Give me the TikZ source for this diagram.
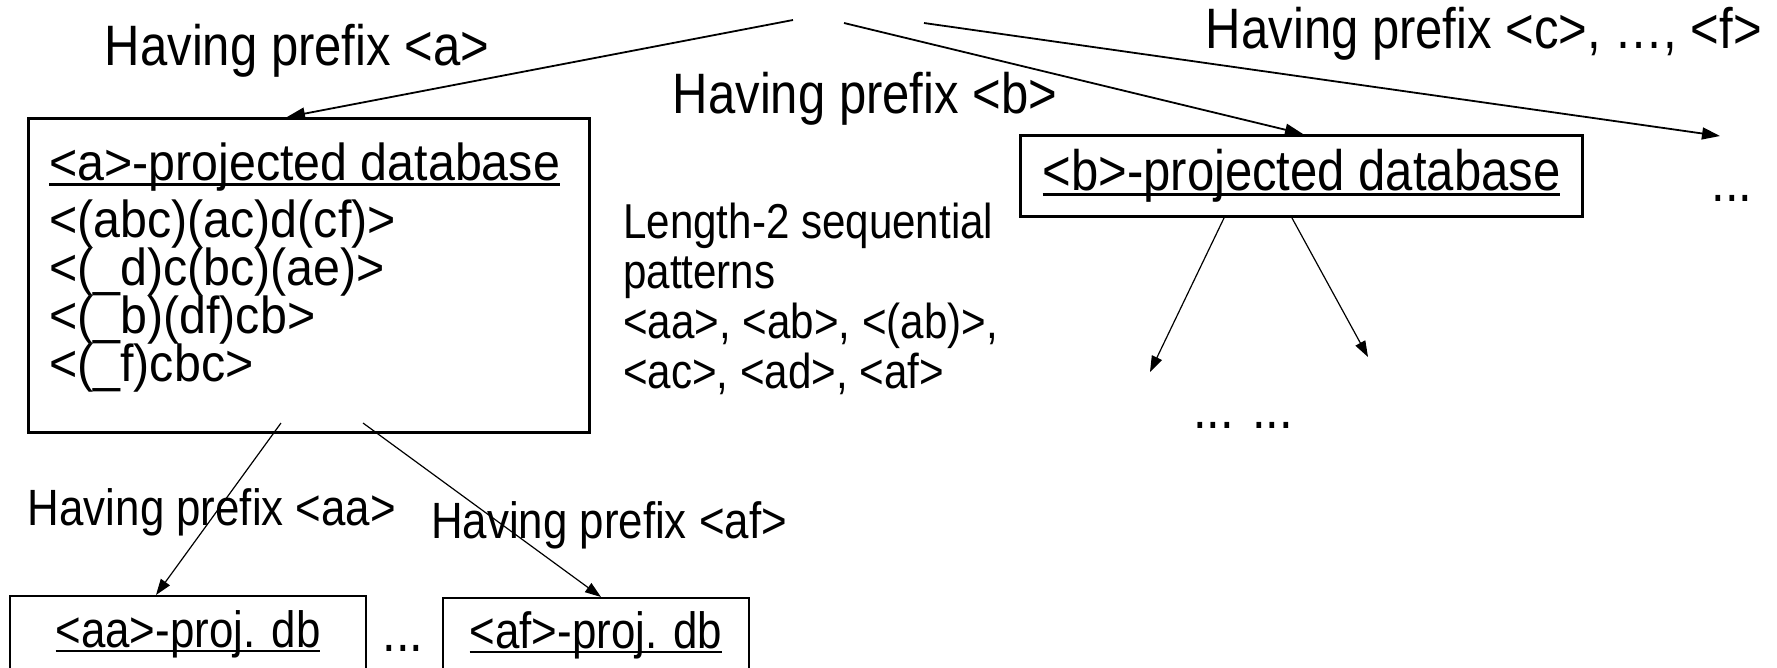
\documentclass[tikz,border=0pt]{standalone}
\usepackage{fontspec}
\setmainfont{Liberation Sans}[FakeStretch=0.86]
\newfontfamily\boxfont{Liberation Sans}[FakeStretch=0.93]
\usetikzlibrary{arrows.meta,positioning}

% underline that runs through the descenders
\newcommand{\dbname}[1]{{\setbox0\hbox{#1}\rlap{\rule[-5pt]{\wd0}{2.5pt}}\box0}}
% tight lines in the database box
\newcommand{\dblines}{\boxfont\fontsize{52}{48}\selectfont\setlength{\lineskiplimit}{-100pt}}

\begin{document}
\begin{tikzpicture}[x=1pt, y=-1pt,
    every node/.style={font=\fontsize{57}{48}\selectfont, inner sep=0pt},
    smalltext/.style={font=\fontsize{51}{50}\selectfont},
    dbbox/.style={draw, line width=3pt},
    subbox/.style={draw, line width=2pt, font=\fontsize{51}{50}\selectfont},
    link/.style={line width=1.8pt, -{Triangle[length=18pt,width=12pt]}},
    sublink/.style={line width=1.2pt, -{Triangle[length=16pt,width=11pt]}}
]

\useasboundingbox (0,0) rectangle (1777,667);

% Root (no box)
\coordinate (rootA) at (793,20);
\coordinate (rootB) at (844,23);
\coordinate (rootC) at (924,23);

% Top level projected databases
\node[dbbox, anchor=north west, minimum width=561pt, minimum height=314pt] (adb) at (27,117) {};
\node[anchor=north west, align=left, font=\dblines] (adbtext) at (49,143)
    {\dbname{<a>-projected database}\\[9pt]
     <(abc)(ac)d(cf)>\\
     <(\_d)c(bc)(ae)>\\
     <(\_b)(df)cb>\\
     <(\_f)cbc>};
\node[dbbox, anchor=north west, minimum width=562pt, minimum height=81pt] (bdb) at (1019,134)
    {\dbname{<b>-projected database}};
\coordinate (cdb) at (1720,136);
\node (cdots) at (1732,198) {...};

% Prefix labels
\node (pa) at (297,51) {Having prefix <a>};
\node (pb) at (865,99) {Having prefix <b>};
\node[anchor=east] (pc) at (1762,34) {Having prefix <c>, …, <f>};

% Length-2 patterns
\node[anchor=north west, align=left, font=\fontsize{49}{50}\selectfont] (len2) at (623,203)
    {Length-2 sequential\\patterns\\<aa>, <ab>, <(ab)>,\\<ac>, <ad>, <af>};

% Second level
\node[subbox, anchor=north west, minimum width=356pt, minimum height=76pt] (aadb) at (9,595)
    {\dbname{<aa>-proj. db}};
\node[subbox, anchor=north west, minimum width=306pt, minimum height=74pt] (afdb) at (442,597)
    {\dbname{<af>-proj. db}};
\node (adots) at (403,648) {...};
\node[smalltext] (paa) at (212,512) {Having prefix <aa>};
\node[smalltext] (paf) at (609,525) {Having prefix <af>};

% Below <b>
\coordinate (bleft) at (1150,372);
\coordinate (bright) at (1368,357);
\node (bdots) at (1243,425) {... ...};

% Links
\coordinate (aout1) at (281,423);
\coordinate (aout2) at (363,423);
\draw[link] (rootA) -- (adb.north west -| 287,0);
\draw[link] (rootB) -- (bdb.north west -| 1303,0);
\draw[link] (rootC) -- (cdb);
\draw[sublink] (bdb.south west -| 1224,0) -- (bleft);
\draw[sublink] (bdb.south west -| 1292,0) -- (bright);
\draw[sublink] (aout1) -- (aadb.north west -| 156,0);
\draw[sublink] (aout2) -- (afdb.north west -| 601,0);

\end{tikzpicture}
\end{document}
